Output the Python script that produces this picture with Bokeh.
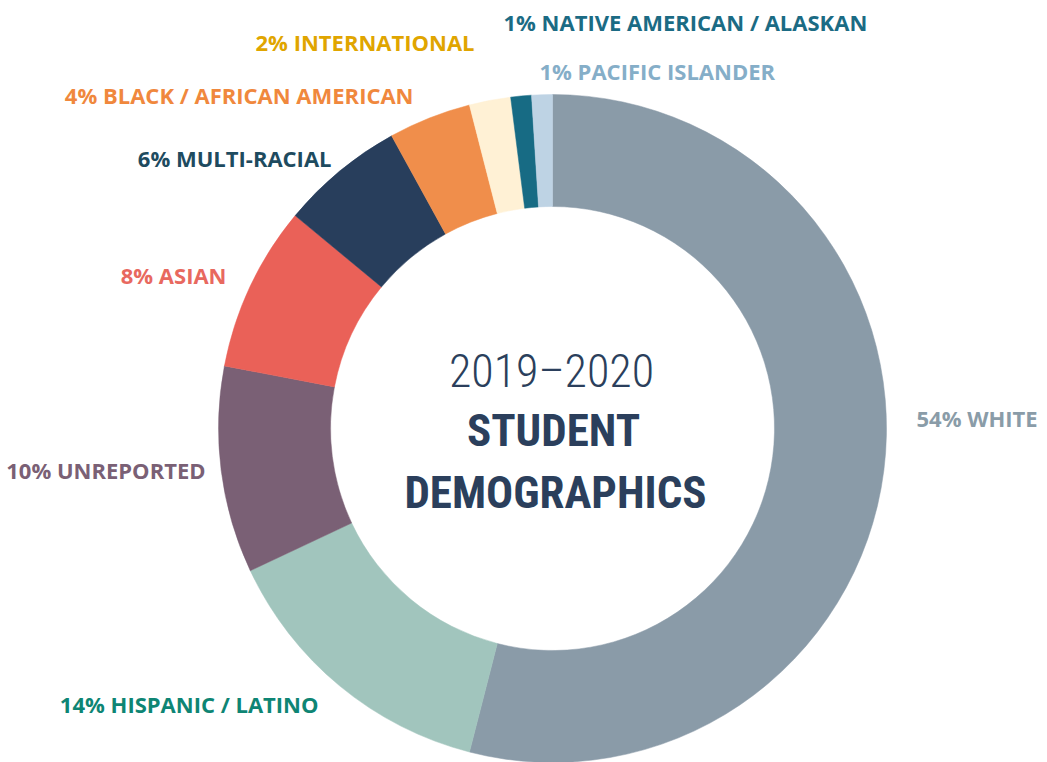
import math
from bokeh.plotting import figure
from bokeh.models import Range1d, ColumnDataSource
from bokeh.core.properties import value
from bokeh.embed import file_html
from bokeh.resources import INLINE

# ---- data ----
categories = ["White", "Hispanic / Latino", "Unreported", "Asian", "Multi-Racial",
              "Black / African American", "International",
              "Native American / Alaskan", "Pacific Islander"]
percents = [54, 14, 10, 8, 6, 4, 2, 1, 1]
labels = ["54% WHITE", "14% HISPANIC / LATINO", "10% UNREPORTED", "8% ASIAN",
          "6% MULTI-RACIAL", "4% BLACK / AFRICAN AMERICAN", "2% INTERNATIONAL",
          "1% NATIVE AMERICAN / ALASKAN", "1% PACIFIC ISLANDER"]
title_lines = ["2019\u20132020", "STUDENT", "DEMOGRAPHICS"]

# ---- styles ----
slice_colors = ["#8a9ba8", "#a1c5bd", "#7a6075", "#ea6158", "#283e5c",
                "#f08e4b", "#fff1d5", "#176b84", "#bed3e4"]
label_colors = ["#8a9ca8", "#0e8574", "#7a6075", "#e8695f", "#1e4b5f",
                "#f0883d", "#e0a500", "#1b6b84", "#85aec8"]
# label anchors in page pixels (x, y-center) and alignment
label_x = [916, 318, 205, 226, 331, 413, 474, 503, 539]
label_y = [417, 703, 469, 274, 157, 94, 41, 21, 70]
label_align = ["left", "right", "right", "right", "right", "right", "right", "left", "left"]

W, H = 1047, 762
PAGE_H = 762
cx, cy = 552, PAGE_H - 428
R_OUT, R_IN = 334, 222

def py(v):
    return PAGE_H - v

total = float(sum(percents))
starts, ends = [], []
cum = 0.0
for pct in percents:
    starts.append(math.pi / 2 - 2 * math.pi * cum / total)
    cum += pct
    ends.append(math.pi / 2 - 2 * math.pi * cum / total)

p = figure(width=W, height=H, output_backend="svg", toolbar_location=None,
           x_range=Range1d(0, W), y_range=Range1d(PAGE_H - H, PAGE_H),
           min_border=0, outline_line_color=None)
p.axis.visible = False
p.grid.visible = False
p.background_fill_color = "white"
p.border_fill_color = "white"

src = ColumnDataSource(dict(start=starts, end=ends, color=slice_colors, cat=categories))
p.annular_wedge(x=cx, y=cy, inner_radius=R_IN, outer_radius=R_OUT,
                start_angle="start", end_angle="end", direction="clock",
                fill_color="color", line_color="color", line_width=0.5, source=src)

lsrc = ColumnDataSource(dict(x=label_x, y=[py(v) for v in label_y], text=labels,
                             color=label_colors, align=label_align))
p.text(x="x", y="y", text="text", text_color="color", text_align="align",
       text_baseline="middle", text_font=value("Open Sans"), text_font_style="bold",
       text_font_size="22px", source=lsrc)

year_font = value("'Roboto Condensed Light', 'Roboto Condensed', 'DejaVu Sans Condensed', sans-serif")
title_font = value("'Roboto Condensed', 'DejaVu Sans Condensed', sans-serif")
p.text(x=[551], y=[py(370)], text=[title_lines[0]], text_color="#2b3f5c",
       text_align="center", text_baseline="middle", text_font=year_font,
       text_font_size="46px")
p.text(x=[553, 555], y=[py(430), py(492)], text=title_lines[1:], text_color="#2b3f5c",
       text_align="center", text_baseline="middle", text_font=title_font,
       text_font_style="bold", text_font_size="45px")

open("out.html", "w").write(file_html(p, INLINE))
